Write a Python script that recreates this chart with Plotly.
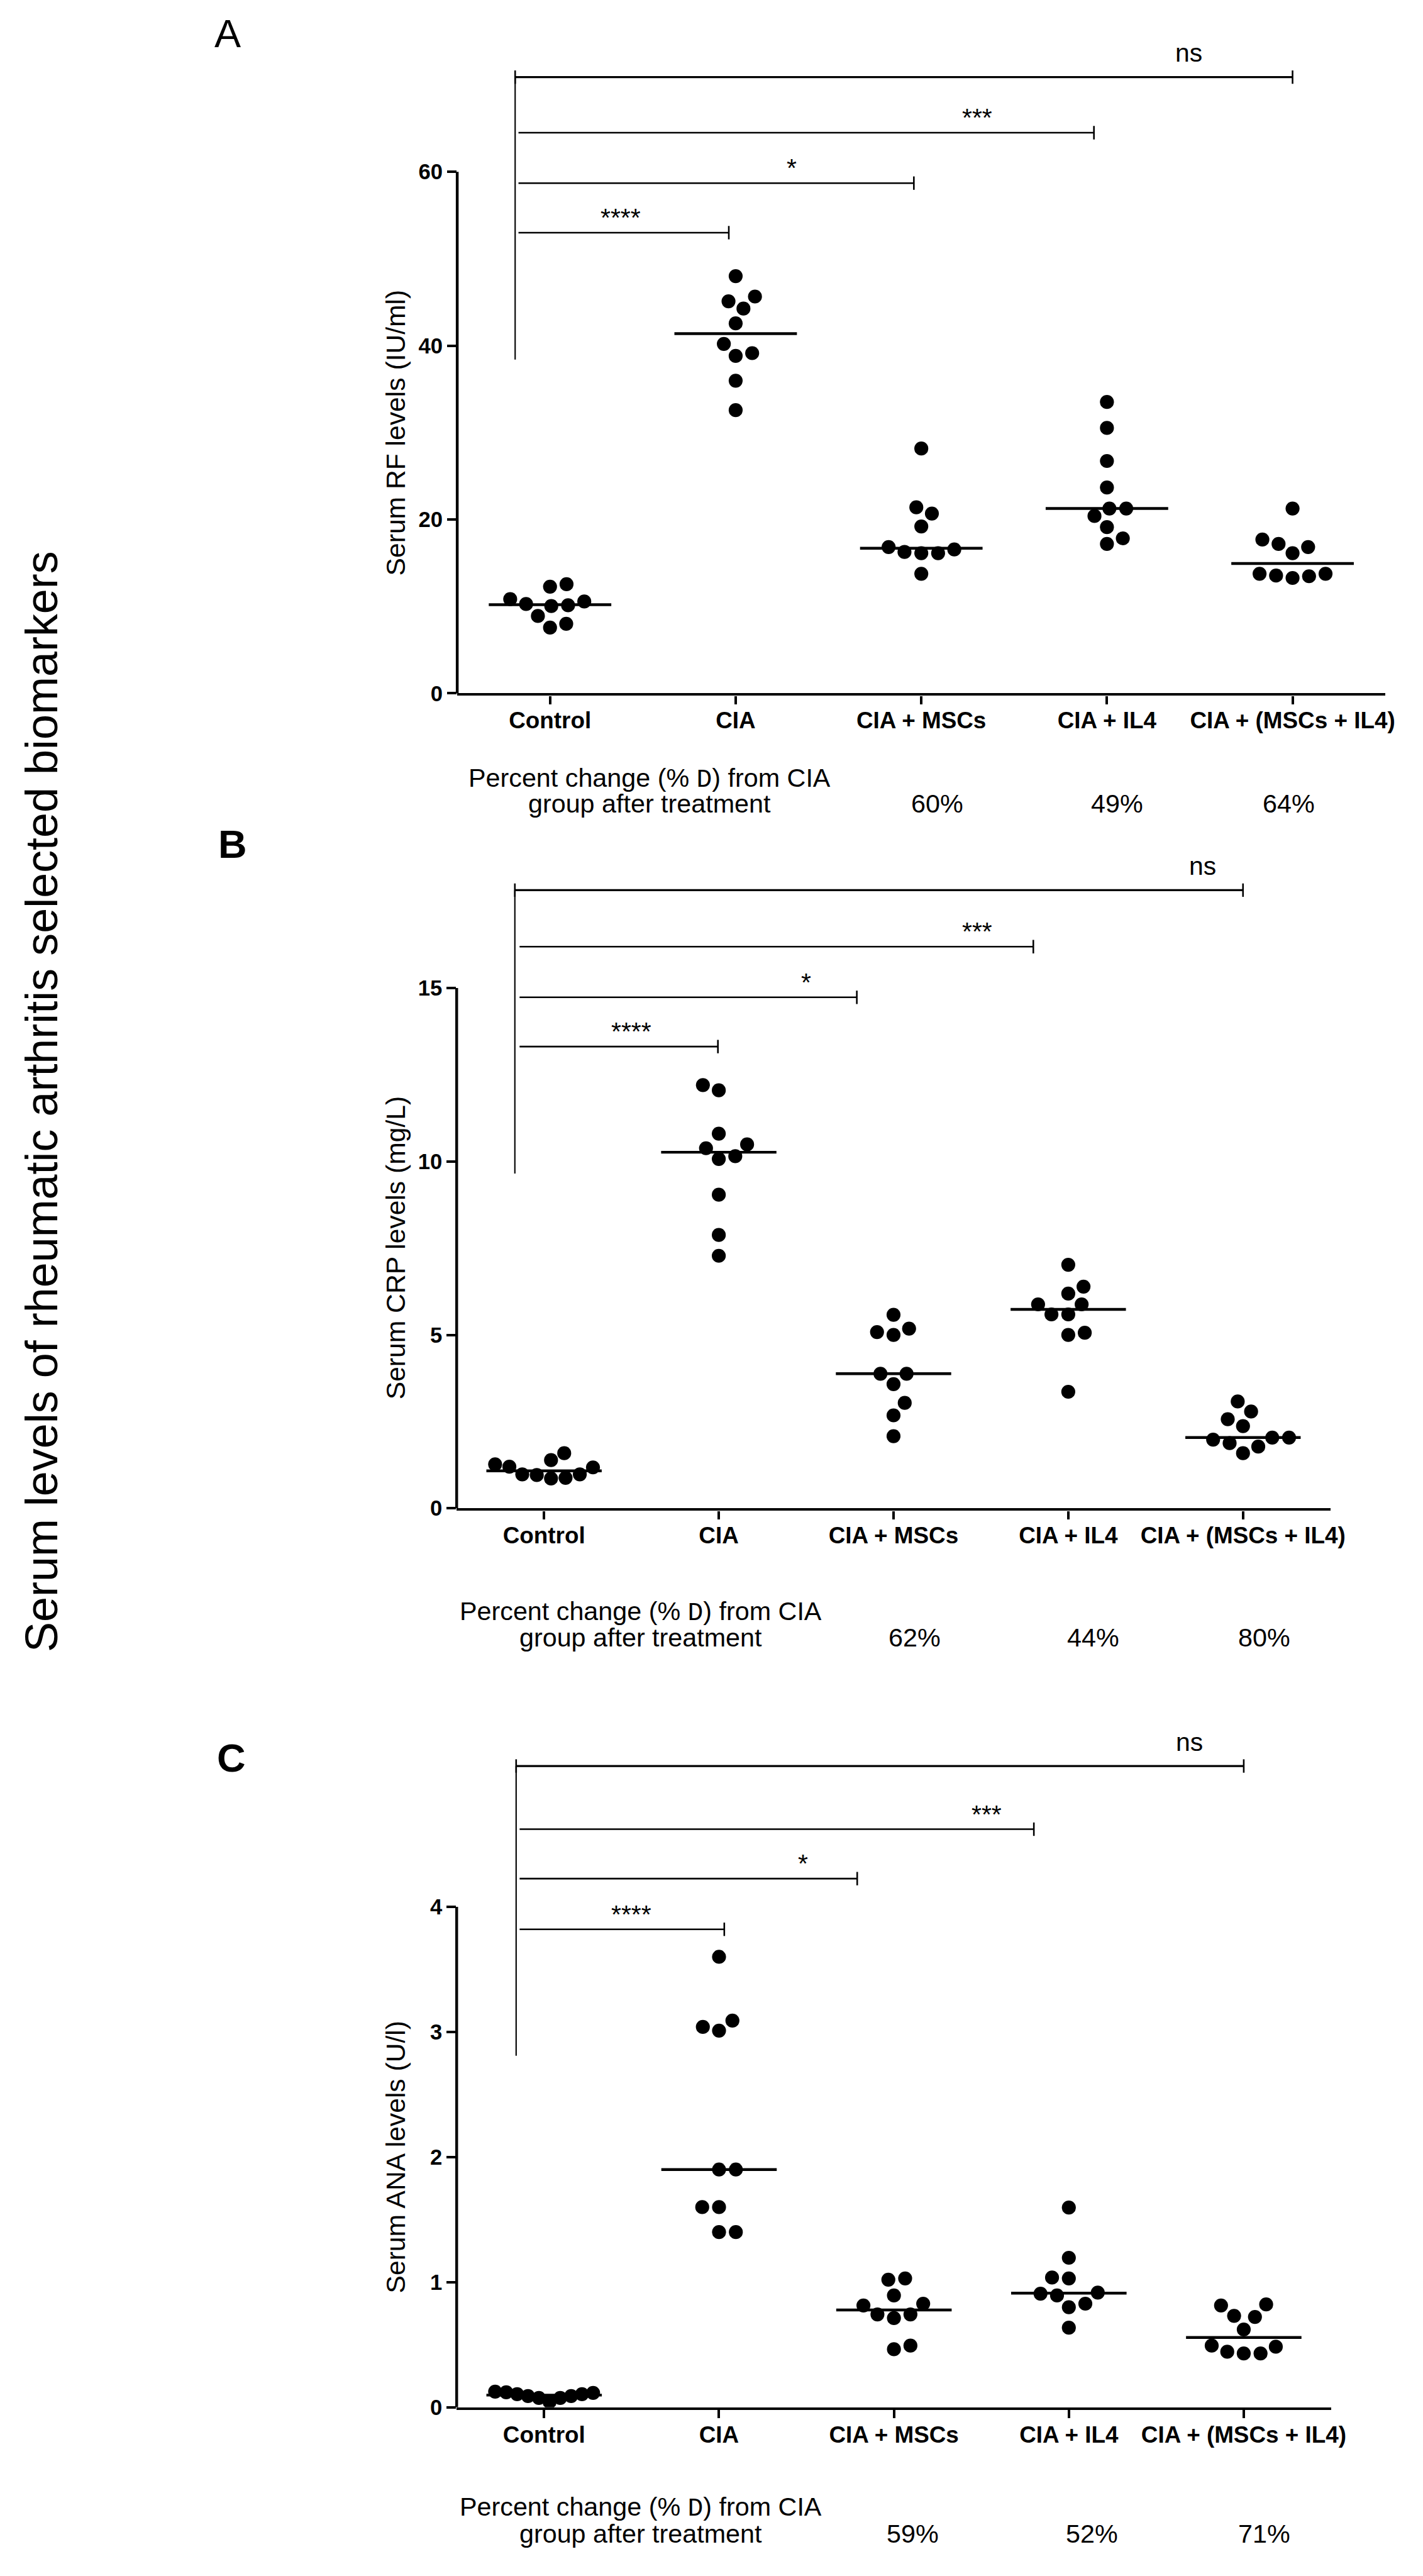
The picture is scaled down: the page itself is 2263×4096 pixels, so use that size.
import numpy as np
import plotly.graph_objects as go

REF_W, REF_H = 2548, 4612
W, H = 2263, 4096
S = W / REF_W

FONT = "Liberation Sans, Arial, Helvetica, sans-serif"

# ---------------- data ----------------
groups = ["Control", "CIA", "CIA + MSCs", "CIA + IL4", "CIA + (MSCs + IL4)"]

rf_control = [10.56, 10.13, 12.27, 12.55, 10.84, 8.90, 10.04, 10.27, 7.56, 7.99]
rf_cia = [48.0, 45.65, 45.1, 44.26, 42.56, 40.2, 38.82, 39.14, 35.97, 32.58]
rf_mscs = [28.16, 21.4, 20.68, 19.2, 16.55, 16.12, 16.12, 16.26, 16.83, 13.75]
rf_il4 = [33.52, 30.53, 26.73, 23.68, 21.26, 21.26, 20.4, 19.12, 17.83, 17.18]
rf_combo = [21.26, 17.69, 16.83, 17.18, 16.12, 13.75, 13.55, 13.27, 13.47, 13.75]

crp_control = [1.59, 1.18, 1.39, 1.27, 1.20, 0.98, 0.96, 0.86, 0.88, 0.98]
crp_cia = [12.2, 12.05, 10.8, 10.49, 10.38, 10.15, 10.07, 9.04, 7.88, 7.28]
crp_mscs = [5.58, 5.08, 5.18, 5.0, 3.88, 3.88, 3.58, 3.04, 2.68, 2.08]
crp_il4 = [7.02, 6.39, 6.19, 5.88, 5.88, 5.59, 5.59, 5.06, 5.0, 3.36]
crp_combo = [3.08, 2.79, 2.57, 2.37, 2.04, 2.04, 1.98, 1.88, 1.78, 1.59]

ana_control = [0.12, 0.105, 0.09, 0.075, 0.043, 0.075, 0.09, 0.105, 0.115, 0.125]
ana_cia = [3.6, 3.04, 3.01, 3.09, 1.9, 1.9, 1.6, 1.6, 1.4, 1.4]
ana_mscs = [1.03, 1.02, 0.894, 0.814, 0.828, 0.742, 0.742, 0.713, 0.464, 0.493]
ana_il4 = [1.596, 1.195, 1.03, 1.037, 0.908, 0.917, 0.894, 0.828, 0.80, 0.636]
ana_combo = [0.814, 0.822, 0.722, 0.731, 0.622, 0.493, 0.484, 0.444, 0.43, 0.43]

rf_ticks = [0, 20, 40, 60]
crp_ticks = [0, 5, 10, 15]
ana_ticks = [0, 1, 2, 3, 4]

rf_pct = ["60%", "49%", "64%"]
crp_pct = ["62%", "44%", "80%"]
ana_pct = ["59%", "52%", "71%"]

sig_labels = ["****", "*", "***", "ns"]

main_title = "Serum levels of rheumatic arthritis selected biomarkers"
pct_line1 = "Percent change (% <span style='font-family:Liberation Mono'>D</span>) from CIA"
pct_line2 = "group after treatment"

# ---------------- layout config (reference pixels) ----------------
panels = [
    dict(letter="A", letter_bold=False, letter_x=377, letter_y=51,
         values=[rf_control, rf_cia, rf_mscs, rf_il4, rf_combo], ticks=rf_ticks,
         title="Serum RF levels (IU/ml)", pct=rf_pct,
         x0=818, x1=2497, zero=1238, toptick=300, top=40,
         pct_cx=1166, pct_y1=1391.5, pct_y2=1436.5, pct_x=[1686, 2012, 2322],
         br_h=[53.0, 58.7, 64.5, 70.9], br_end=[0.963, 1.96, 2.93, 4.0],
         br_tx=[0.38, 1.30, 2.30, 3.44], br_start=-0.17, vline_x=-0.188, vline_bot=38.4),
    dict(letter="B", letter_bold=True, letter_x=383, letter_y=1509,
         values=[crp_control, crp_cia, crp_mscs, crp_il4, crp_combo], ticks=crp_ticks,
         title="Serum CRP levels (mg/L)", pct=crp_pct,
         x0=817, x1=2397.5, zero=2704, toptick=1768, top=1500,
         pct_cx=1150, pct_y1=2891, pct_y2=2936.5, pct_x=[1645, 1968, 2278],
         br_h=[13.31, 14.73, 16.19, 17.82], br_end=[0.995, 1.79, 2.80, 4.0],
         br_tx=[0.50, 1.50, 2.48, 3.77], br_start=-0.14, vline_x=-0.167, vline_bot=9.65),
    dict(letter="C", letter_bold=True, letter_x=381, letter_y=3153,
         values=[ana_control, ana_cia, ana_mscs, ana_il4, ana_combo], ticks=ana_ticks,
         title="Serum ANA levels (U/l)", pct=ana_pct,
         x0=817, x1=2399, zero=4321, toptick=3420.7, top=3090,
         pct_cx=1150, pct_y1=4502, pct_y2=4548.5, pct_x=[1642, 1966, 2278],
         br_h=[3.82, 4.225, 4.62, 5.125], br_end=[1.03, 1.79, 2.80, 4.0],
         br_tx=[0.50, 1.48, 2.53, 3.69], br_start=-0.14, vline_x=-0.16, vline_bot=2.81),
]

DIAM = 25 * S
MAX_HALF = 0.28  # widest allowed half-spread of a swarm, in category units


def swarm(vals, sy, sx, d):
    v = np.asarray(vals, float)
    order = np.argsort(v, kind="stable")
    placed = []
    off = np.zeros(len(v))
    side = 1.0
    steps = np.arange(0.0, 600.0, 0.5)
    for i in order:
        y = v[i] * sy
        done = False
        for st in steps:
            cands = [0.0] if st == 0 else [side * st, -side * st]
            for c in cands:
                if all((c - px) ** 2 + (y - py) ** 2 >= d * d for px, py in placed):
                    off[i] = c
                    done = True
                    break
            if done:
                break
        if off[i] != 0:
            side = -np.sign(off[i])
        placed.append((off[i], y))
    off = off / sx
    if np.abs(off).max() > MAX_HALF:
        off = off - (off.max() + off.min()) / 2.0
        off = off * (MAX_HALF / np.abs(off).max())
    return off


fig = go.Figure()
shapes = []
annotations = []
layout_axes = {}

LW_AX = 5.0 * S
LW_BR = 2.9 * S
CAP = 12 * S

for k, p in enumerate(panels):
    sfx = "" if k == 0 else str(k + 1)
    xa, ya = "x" + sfx, "y" + sfx
    maxtick = p["ticks"][-1]
    unit_px_ref = (p["zero"] - p["toptick"]) / maxtick
    ytop = (p["zero"] - p["top"]) / unit_px_ref
    sy = unit_px_ref * S
    sx = (p["x1"] - p["x0"]) / 5.0 * S

    layout_axes["xaxis" + sfx] = dict(
        domain=[p["x0"] / REF_W, p["x1"] / REF_W], anchor=ya, range=[-0.5, 4.5],
        tickmode="array", tickvals=list(range(len(groups))), ticktext=groups,
        ticks="outside", ticklen=15 * S, tickwidth=4.5 * S, tickcolor="black",
        ticklabelstandoff=-6,
        showline=True, linewidth=LW_AX, linecolor="black", showgrid=False, zeroline=False,
        tickfont=dict(family=FONT, size=41.5 * S, color="black", weight="bold"), fixedrange=True)
    layout_axes["yaxis" + sfx] = dict(
        domain=[1 - p["zero"] / REF_H, 1 - p["top"] / REF_H], anchor=xa, range=[0, ytop],
        tickmode="array", tickvals=p["ticks"], ticktext=[str(t) for t in p["ticks"]],
        ticks="outside", ticklen=17 * S, tickwidth=4.5 * S, tickcolor="black",
        showline=False, showgrid=False, zeroline=False,
        tickfont=dict(family=FONT, size=39 * S, color="black", weight="bold"), fixedrange=True)

    # y axis line up to top tick
    shapes.append(dict(type="line", xref=xa + " domain", x0=0, x1=0, yref=ya, y0=0, y1=maxtick,
                       line=dict(color="black", width=LW_AX)))

    for i, vals in enumerate(p["values"]):
        off = swarm(vals, sy, sx, DIAM * 1.2)
        fig.add_trace(go.Scatter(x=i + off, y=vals, xaxis=xa, yaxis=ya, mode="markers",
                                 marker=dict(color="black", size=DIAM, line=dict(width=0)),
                                 hoverinfo="skip", showlegend=False))
        med = float(np.median(vals))
        fig.add_trace(go.Scatter(x=[i - 0.33, i + 0.33], y=[med, med], xaxis=xa, yaxis=ya,
                                 mode="lines", line=dict(color="black", width=5.0 * S),
                                 hoverinfo="skip", showlegend=False))

    # significance brackets
    shapes.append(dict(type="line", xref=xa, yref=ya, x0=p["vline_x"], x1=p["vline_x"],
                       y0=p["vline_bot"], y1=p["br_h"][-1], line=dict(color="black", width=2.4 * S)))
    shapes.append(dict(type="line", xref=xa, yref=ya, ysizemode="pixel", yanchor=p["br_h"][-1],
                       x0=p["vline_x"], x1=p["vline_x"], y0=-CAP, y1=CAP,
                       line=dict(color="black", width=LW_BR)))
    for j, lab in enumerate(sig_labels):
        h = p["br_h"][j]
        xs = p["vline_x"] if lab == "ns" else p["br_start"]
        w = LW_BR * (1.25 if lab == "ns" else 1.0)
        shapes.append(dict(type="line", xref=xa, yref=ya, x0=xs, x1=p["br_end"][j], y0=h, y1=h,
                           line=dict(color="black", width=w)))
        shapes.append(dict(type="line", xref=xa, yref=ya, ysizemode="pixel", yanchor=h,
                           x0=p["br_end"][j], x1=p["br_end"][j], y0=-CAP, y1=CAP,
                           line=dict(color="black", width=LW_BR)))
        annotations.append(dict(xref=xa, yref=ya, x=p["br_tx"][j], y=h, text=lab, showarrow=False,
                                xanchor="center", yanchor="middle",
                                yshift=(43 if lab == "ns" else 27) * S,
                                font=dict(family=FONT, size=46 * S, color="black")))

    # panel letter
    annotations.append(dict(xref="paper", yref="paper", x=p["letter_x"] / REF_W,
                            y=1 - p["letter_y"] / REF_H, text=p["letter"], showarrow=False,
                            xanchor="left", yanchor="middle",
                            font=dict(family=FONT, size=71 * S, color="black",
                                      weight="bold" if p["letter_bold"] else "normal")))
    # y axis title
    annotations.append(dict(xref="paper", yref=ya, x=706 / REF_W, y=maxtick / 2.0,
                            text=p["title"], textangle=-90, showarrow=False,
                            xanchor="center", yanchor="middle",
                            font=dict(family=FONT, size=48 * S, color="black")))
    # percent change block
    annotations.append(dict(xref="paper", yref="paper", x=p["pct_cx"] / REF_W,
                            y=1 - p["pct_y1"] / REF_H, text=pct_line1, showarrow=False,
                            xanchor="center", yanchor="middle",
                            font=dict(family=FONT, size=46.5 * S, color="black")))
    annotations.append(dict(xref="paper", yref="paper", x=p["pct_cx"] / REF_W,
                            y=1 - p["pct_y2"] / REF_H, text=pct_line2, showarrow=False,
                            xanchor="center", yanchor="middle",
                            font=dict(family=FONT, size=46.5 * S, color="black")))
    for t, px in zip(p["pct"], p["pct_x"]):
        annotations.append(dict(xref="paper", yref="paper", x=px / REF_W,
                                y=1 - p["pct_y2"] / REF_H, text=t, showarrow=False,
                                xanchor="center", yanchor="middle",
                                font=dict(family=FONT, size=46.5 * S, color="black")))

annotations.append(dict(xref="paper", yref="paper", x=66 / REF_W, y=1 - 1973 / REF_H,
                        text=main_title, textangle=-90, showarrow=False,
                        xanchor="center", yanchor="middle",
                        font=dict(family=FONT, size=81 * S, color="black")))

fig.update_layout(
    width=W, height=H, margin=dict(l=0, r=0, t=0, b=0),
    paper_bgcolor="white", plot_bgcolor="white", showlegend=False,
    shapes=shapes, annotations=annotations, hovermode=False,
    **layout_axes)

fig.write_html("out.html", config={"displayModeBar": False})
